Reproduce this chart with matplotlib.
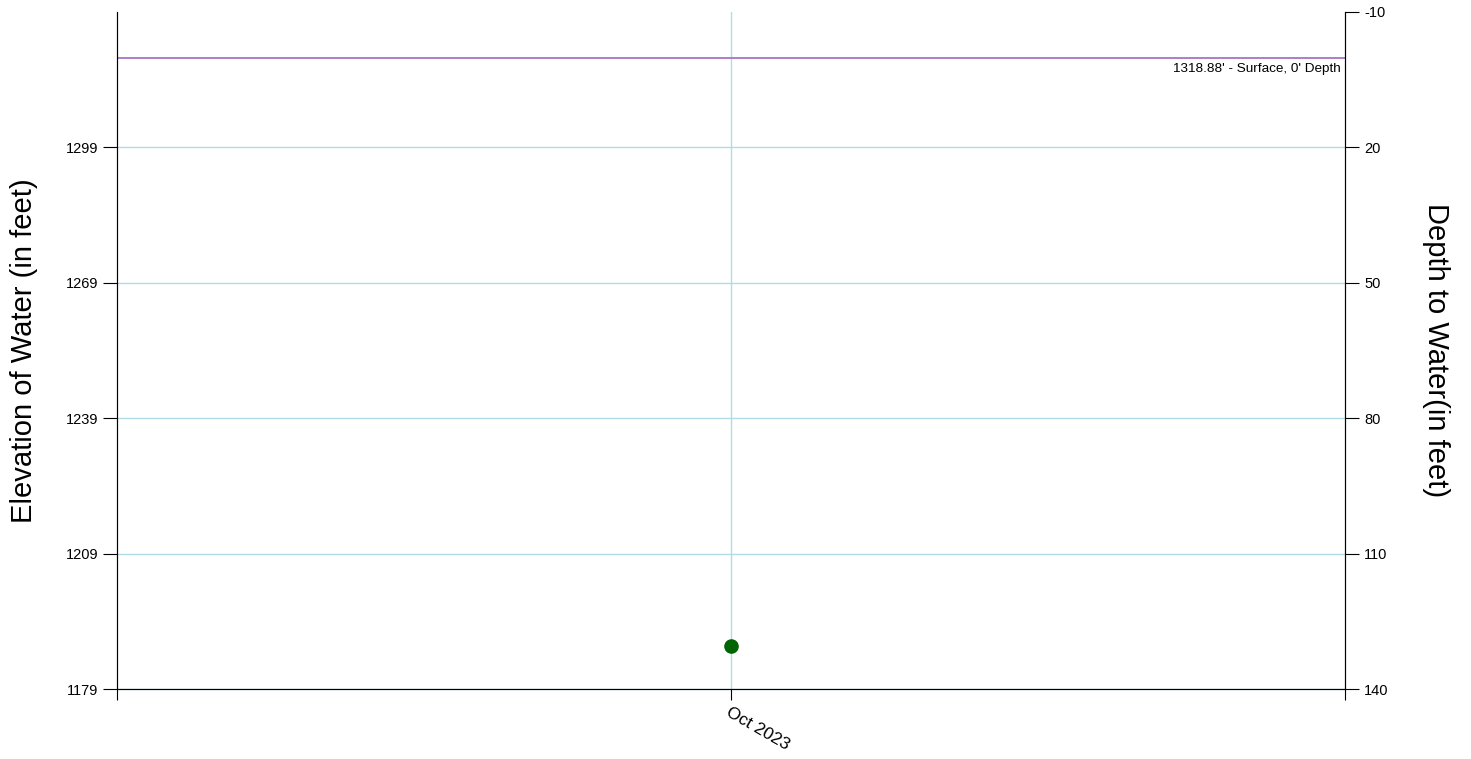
import numpy as np
import matplotlib
matplotlib.use("Agg")
from matplotlib import pyplot as plt

plt.rcParams['font.family'] = ['Liberation Sans', 'DejaVu Sans']
plt.rcParams['axes.unicode_minus'] = False

# data
dates = ["Oct 2023"]
elevation = [1188.5]          # measured water elevation (ft)
surface = 1318.88             # land surface elevation (ft)
left_ticks = [1179, 1209, 1239, 1269, 1299]
right_ticks = [-10, 20, 50, 80, 110, 140]
surface_label = "1318.88' - Surface, 0' Depth"

fig = plt.figure(figsize=(14.71, 7.59), dpi=100)
ax = fig.add_axes([0.0795, 0.0922, 0.835, 0.892])

x = np.arange(len(dates)) + 1
ax.set_xlim(0, 2)
ax.set_ylim(1179, 1179 + 150)

ax.axhline(surface, color='#a774c4', lw=1.3, zorder=2)
ax.text(1.993, surface - 1.2, surface_label, ha='right', va='top', fontsize=9.7)

ax.scatter(x, elevation, s=90, color='#006400', zorder=3)

ax.set_yticks(left_ticks)
ax.set_xticks([0, 1, 2])
ax.set_xticklabels([""] + dates + [""], rotation=-30, ha='left', rotation_mode='anchor', fontsize=12.5)
ax.grid(True, color='#b0dce6', lw=1)
ax.xaxis.grid(False)
ax.axvline(1, color='#b0dce6', lw=1, zorder=0)
ax.set_axisbelow(True)
ax.tick_params(axis='y', labelsize=10.5, length=10)
ax.tick_params(axis='x', length=8, pad=3)
ax.spines['top'].set_visible(False)
for s in ['left', 'right', 'bottom']:
    ax.spines[s].set_color('#333333')
ax.set_ylabel("Elevation of Water (in feet)", fontsize=21, labelpad=20)

ax2 = ax.twinx()
ax2.set_ylim(140, -10)
ax2.set_yticks(right_ticks)
ax2.tick_params(axis='y', labelsize=10.5, length=10)
ax2.spines['top'].set_visible(False)
ax2.set_ylabel("Depth to Water(in feet)", fontsize=21, rotation=-90, labelpad=44)

plt.savefig("out.png", dpi=100)
